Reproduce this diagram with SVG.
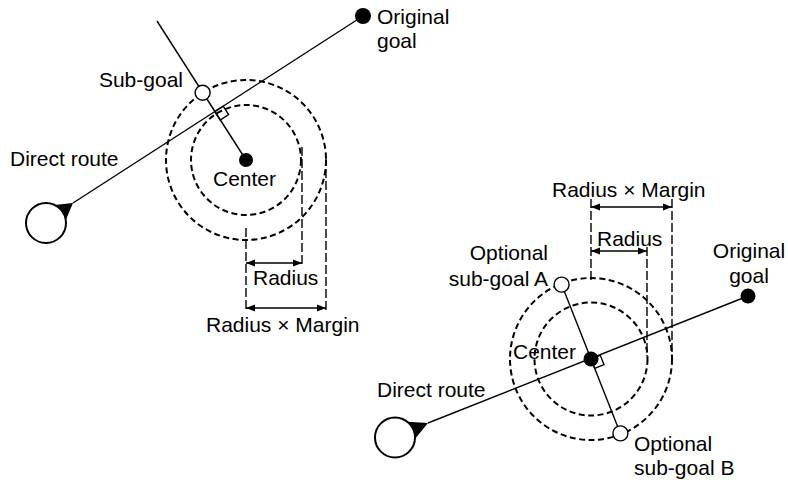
<svg xmlns="http://www.w3.org/2000/svg" width="788" height="482" viewBox="0 0 788 482">
<defs>
<marker id="ah" viewBox="0 0 10 10" refX="10" refY="5" markerWidth="9" markerHeight="9" markerUnits="userSpaceOnUse" orient="auto-start-reverse">
<path d="M0,1 L10,5 L0,9 Z" fill="#000"/>
</marker>
</defs>
<style>
text{font-family:"Liberation Sans",Arial,sans-serif;font-size:21px;fill:#000}
.ln{stroke:#000;stroke-width:1.4;fill:none}
.dc{stroke:#000;stroke-width:2;fill:none;stroke-dasharray:6 3.5}
.dv{stroke:#000;stroke-width:1.4;fill:none;stroke-dasharray:9 3}
.dim{stroke:#000;stroke-width:1.4;fill:none;marker-start:url(#ah);marker-end:url(#ah)}
.sq{stroke:#000;stroke-width:1.4;fill:none}
.open{fill:#fff;stroke:#000;stroke-width:1.4}
.start{fill:#fff;stroke:#000;stroke-width:2}
</style>

<g id="connectors">
<!-- left -->
<line class="ln" x1="73" y1="203" x2="363" y2="16"/>
<line class="ln" x1="157" y1="21" x2="246" y2="160"/>
<polygon class="sq" points="214.8,111.6 223.2,106.2 228.6,114.6 220.2,120"/>
<!-- right -->
<line class="ln" x1="428" y1="423" x2="748" y2="296"/>
<line class="ln" x1="561.6" y1="284.6" x2="620.4" y2="433.4"/>
<polygon class="sq" points="591,359 600.3,355.3 604,364.6 594.7,368.3"/>
</g>

<g id="left-circles">
<circle class="dc" cx="246" cy="160" r="80"/>
<circle class="dc" cx="246" cy="160" r="55"/>
</g>

<g id="left-dimensions">
<line class="dv" x1="246" y1="228" x2="246" y2="310"/>
<line class="dv" x1="302" y1="147" x2="302" y2="264"/>
<line class="dv" x1="326" y1="157" x2="326" y2="310"/>
<line class="dim" x1="246" y1="263" x2="302" y2="263"/>
<line class="dim" x1="246" y1="308" x2="326" y2="308"/>
<text x="253" y="285">Radius</text>
<text x="206" y="332">Radius × Margin</text>
</g>

<g id="left-start">
<circle class="start" cx="46" cy="223" r="20"/>
<path d="M73,203 L54.6,204.9 A20,20 0 0 1 65.8,220 Z" fill="#000"/>
<text x="10" y="166">Direct route</text>
</g>

<g id="left-goal">
<circle cx="363" cy="16" r="8" fill="#000"/>
<text x="377" y="24">Original</text>
<text x="377" y="48">goal</text>
</g>

<g id="left-subgoal">
<circle class="open" cx="202.6" cy="92.8" r="7.5"/>
<text x="183" y="87" text-anchor="end">Sub-goal</text>
</g>

<g id="left-center">
<circle cx="246" cy="160" r="7" fill="#000"/>
<text x="213" y="186">Center</text>
</g>

<g id="right-circles">
<circle class="dc" cx="591" cy="359" r="81"/>
<circle class="dc" cx="591" cy="359" r="56.5"/>
</g>

<g id="right-dimensions">
<line class="dv" x1="591" y1="199" x2="591" y2="282"/>
<line class="dv" x1="647" y1="247" x2="647" y2="356"/>
<line class="dv" x1="672" y1="199" x2="672" y2="358"/>
<line class="dim" x1="591" y1="207" x2="672" y2="207"/>
<line class="dim" x1="591" y1="251" x2="647" y2="251"/>
<text x="552" y="197">Radius × Margin</text>
<text x="597" y="246">Radius</text>
</g>

<g id="right-start">
<circle class="start" cx="395" cy="437.5" r="20"/>
<path d="M428,423 L407.4,421.8 A20,20 0 0 1 414.9,439 Z" fill="#000"/>
<text x="377" y="397">Direct route</text>
</g>

<g id="right-goal">
<circle cx="748" cy="296" r="7.5" fill="#000"/>
<text x="749" y="258" text-anchor="middle">Original</text>
<text x="749" y="283" text-anchor="middle">goal</text>
</g>

<g id="right-center">
<circle cx="591" cy="359" r="7.5" fill="#000"/>
<text x="513" y="359">Center</text>
</g>

<g id="subgoal-a">
<circle class="open" cx="561.6" cy="284.6" r="7.5"/>
<text x="548" y="260" text-anchor="end">Optional</text>
<text x="548" y="286" text-anchor="end">sub-goal A</text>
</g>

<g id="subgoal-b">
<circle class="open" cx="620.4" cy="433.4" r="7.5"/>
<text x="634" y="451">Optional</text>
<text x="634" y="475">sub-goal B</text>
</g>
</svg>
